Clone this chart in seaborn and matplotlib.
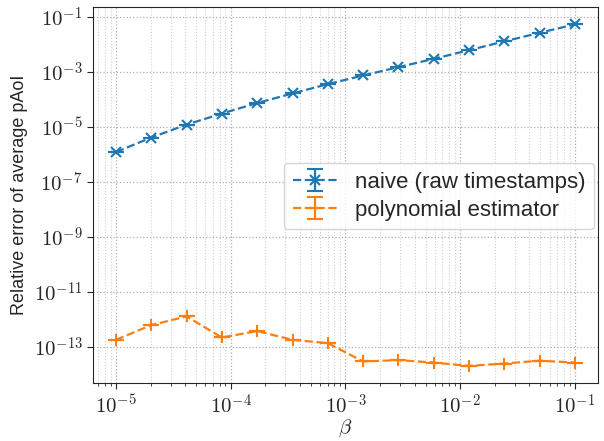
import numpy as np
import pandas as pd
import matplotlib
matplotlib.use("Agg")
import matplotlib.pyplot as plt
import matplotlib.ticker as mticker
import seaborn as sns

# DATA
beta = [1.0e-5, 2.031e-5, 4.125e-5, 8.377e-5, 1.701e-4, 3.455e-4, 7.017e-4,
        1.425e-3, 2.894e-3, 5.878e-3, 1.194e-2, 2.424e-2, 4.924e-2, 1.0e-1]
naive_err = [1.19e-6, 4.0e-6, 1.18e-5, 2.98e-5, 7.2e-5, 1.6e-4, 3.5e-4,
             7.2e-4, 1.45e-3, 2.9e-3, 6.0e-3, 1.25e-2, 2.57e-2, 5.2e-2]
poly_err = [1.78e-13, 6.1e-13, 1.26e-12, 2.16e-13, 3.7e-13, 1.78e-13, 1.35e-13,
            2.9e-14, 3.25e-14, 2.65e-14, 2.0e-14, 2.45e-14, 3.1e-14, 2.65e-14]
naive_std = [0.0] * len(beta)
poly_std = [0.0] * len(beta)
labels = ["naive (raw timestamps)", "polynomial estimator"]

df = pd.DataFrame({"beta": beta, "naive": naive_err, "poly": poly_err,
                   "naive_std": naive_std, "poly_std": poly_std})

sns.set_style("ticks")
plt.rcParams["font.family"] = ["Liberation Sans", "DejaVu Sans"]
plt.rcParams["mathtext.fontset"] = "cm"
colors = sns.color_palette("tab10")

fig = plt.figure(figsize=(6.04, 4.41), dpi=100)
ax = fig.add_axes([0.154, 0.1315, 0.836, 0.852])

ax.errorbar(df["beta"], df["naive"], yerr=df["naive_std"], color=colors[0],
            ls="--", lw=1.6, marker="x", ms=7, mew=1.5, capsize=6, capthick=1.5,
            label=labels[0])
ax.errorbar(df["beta"], df["poly"], yerr=df["poly_std"], color=colors[1],
            ls="--", lw=1.6, marker="+", ms=9, mew=1.5, capsize=6, capthick=1.5,
            label=labels[1])

ax.set_xscale("log")
ax.set_yscale("log")
ax.set_yticks([10.0 ** e for e in range(-13, 0, 2)])
ax.yaxis.set_minor_locator(mticker.NullLocator())
ax.xaxis.set_major_locator(mticker.LogLocator(base=10, numticks=10))
ax.xaxis.set_minor_locator(mticker.LogLocator(base=10, subs=np.arange(2, 10), numticks=20))

def pow_label(v, pos):
    return r"$10^{%d}$" % int(round(np.log10(v)))

ax.xaxis.set_major_formatter(mticker.FuncFormatter(pow_label))
ax.yaxis.set_major_formatter(mticker.FuncFormatter(pow_label))

ax.grid(True, which="major", ls=":", color="#b0b0b0", lw=0.9)
ax.grid(True, which="minor", axis="x", ls=":", color="#d0d0d0", lw=0.8)
ax.tick_params(axis="both", which="major", labelsize=15, length=4)
ax.tick_params(axis="x", which="minor", length=2.5)

ax.set_xlabel(r"$\beta$", fontsize=15, labelpad=0)
ax.set_ylabel("Relative error of average pAoI", fontsize=13)

ax.legend(loc="upper left", bbox_to_anchor=(0.356, 0.615), fontsize=16,
          frameon=True, fancybox=True, framealpha=0.8, handlelength=2.0,
          borderpad=0.4, labelspacing=0.3)

fig.savefig("out.png", dpi=100)
